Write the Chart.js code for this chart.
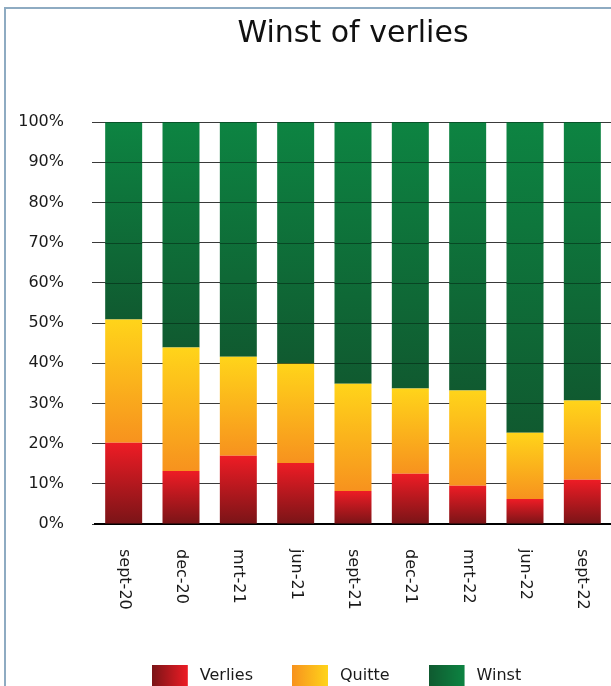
<!DOCTYPE html>
<html>
<head>
<meta charset="utf-8">
<script src="https://cdn.jsdelivr.net/npm/chart.js@4.4.0/dist/chart.umd.min.js"></script>
<style>
  html, body { margin: 0; padding: 0; background: #fff; }
  #wrap { position: relative; width: 611px; height: 686px; }
  #frame { position: absolute; left: 4px; top: 7px; right: 0; bottom: 0;
           border-top: 2px solid #8eabc2; border-left: 2px solid #8eabc2; pointer-events: none; }
</style>
</head>
<body>
<div id="wrap"><canvas id="c"></canvas><div id="frame"></div></div>
<script>
// Values (percent of total per quarter)
const quarters = ['sept-20', 'dec-20', 'mrt-21', 'jun-21', 'sept-21', 'dec-21', 'mrt-22', 'jun-22', 'sept-22'];
const verlies = [20.2, 13.2, 17.0, 15.2, 8.2, 12.5, 9.5, 6.2, 11.0];
const quitte  = [30.7, 30.7, 24.6, 24.7, 26.7, 21.2, 23.7, 16.5, 19.7];
const winst   = [49.1, 56.1, 58.4, 60.1, 65.1, 66.3, 66.8, 77.3, 69.3];
const seriesNames = ['Verlies', 'Quitte', 'Winst'];

const FONT = '"DejaVu Sans", Verdana, sans-serif';
const allSeries = [verlies, quitte, winst];
// [dark (bottom / left), bright (top / right)]
const shades = [['#7a1417', '#ee1c25'], ['#f7921e', '#ffd41a'], ['#105a30', '#0d8442']];

// vertical gradient spanning just this segment of the stack
function segmentFill(k) {
  return (ctx) => {
    const chart = ctx.chart;
    const y = chart.scales.y;
    if (!chart.chartArea || !y || ctx.dataIndex == null) return shades[k][1];
    const i = ctx.dataIndex;
    let below = 0;
    for (let j = 0; j < k; j++) below += allSeries[j][i];
    const y0 = y.getPixelForValue(below);
    const y1 = y.getPixelForValue(below + allSeries[k][i]);
    const g = chart.ctx.createLinearGradient(0, y0, 0, y1);
    g.addColorStop(0, shades[k][0]);
    g.addColorStop(1, shades[k][1]);
    return g;
  };
}

// legend swatch: horizontal gradient box on the left of a wider transparent image
function swatch(k) {
  const c = document.createElement('canvas');
  c.width = 73; c.height = 22;
  const cx = c.getContext('2d');
  const g = cx.createLinearGradient(0, 0, 36, 0);
  g.addColorStop(0, shades[k][0]);
  g.addColorStop(1, shades[k][1]);
  cx.fillStyle = g;
  cx.fillRect(0, 0, 36, 22);
  return c;
}
const swatches = [0, 1, 2].map(swatch);

// x labels read top to bottom, which the axis itself can't do
const xLabelsPlugin = {
  id: 'xLabels',
  afterDraw(chart) {
    const x = chart.scales.x;
    const ctx = chart.ctx;
    ctx.save();
    ctx.font = '16px ' + FONT;
    ctx.fillStyle = '#1a1a1a';
    ctx.textAlign = 'left';
    ctx.textBaseline = 'middle';
    quarters.forEach((q, i) => {
      ctx.save();
      ctx.translate(x.getPixelForTick(i), chart.chartArea.bottom + 25);
      ctx.rotate(Math.PI / 2);
      ctx.fillText(q, 0, 0);
      ctx.restore();
    });
    ctx.restore();
  }
};

// grid lines show through the green segments
const greenGridPlugin = {
  id: 'greenGrid',
  afterDatasetsDraw(chart) {
    const y = chart.scales.y;
    const ctx = chart.ctx;
    const meta = chart.getDatasetMeta(2);
    ctx.save();
    ctx.strokeStyle = 'rgba(0,25,10,0.45)';
    ctx.lineWidth = 1;
    meta.data.forEach(bar => {
      const p = bar.getProps(['x', 'y', 'base', 'width'], true);
      y.ticks.forEach(t => {
        const py = Math.round(y.getPixelForValue(t.value)) + 0.5;
        if (py >= p.y - 1 && py <= p.base) {
          ctx.beginPath();
          ctx.moveTo(p.x - p.width / 2, py);
          ctx.lineTo(p.x + p.width / 2, py);
          ctx.stroke();
        }
      });
    });
    ctx.restore();
  }
};

new Chart(document.getElementById('c'), {
  type: 'bar',
  data: {
    labels: quarters,
    datasets: allSeries.map((vals, k) => ({
      label: seriesNames[k],
      data: vals,
      backgroundColor: segmentFill(k),
      borderWidth: 0,
      barPercentage: 1,
      categoryPercentage: 0.645,
    })),
  },
  options: {
    responsive: true,
    maintainAspectRatio: false,
    animation: false,
    events: [],
    layout: { padding: 0 },
    scales: {
      x: {
        stacked: true,
        grid: { display: false },
        border: { display: true, color: '#000', width: 2 },
        ticks: { display: false },
        afterFit(s) { s.height = 72; },
      },
      y: {
        stacked: true,
        min: 0,
        max: 100,
        ticks: {
          stepSize: 10,
          padding: 28,
          color: '#1a1a1a',
          font: { family: FONT, size: 16 },
          callback: v => v + '%',
        },
        grid: { color: '#3a3a3a', lineWidth: 1, tickLength: 3 },
        border: { display: false },
        afterFit(s) { s.width = 95; },
      },
    },
    plugins: {
      title: {
        display: true,
        text: 'Winst of verlies',
        fullSize: false,
        color: '#111',
        font: { family: FONT, size: 30, weight: 'normal' },
        padding: { top: 16, bottom: 70 },
      },
      legend: {
        position: 'bottom',
        fullSize: false,
        maxHeight: 90,
        labels: {
          usePointStyle: true,
          pointStyleWidth: 7,
          padding: 72,
          color: '#1a1a1a',
          font: { family: FONT, size: 16 },
          generateLabels(chart) {
            return Chart.defaults.plugins.legend.labels.generateLabels(chart).map((it, k) => ({
              ...it, pointStyle: swatches[k], lineWidth: 0, strokeStyle: 'transparent',
            }));
          },
        },
      },
      tooltip: { enabled: false },
    },
  },
  plugins: [xLabelsPlugin, greenGridPlugin],
});
</script>
</body>
</html>
